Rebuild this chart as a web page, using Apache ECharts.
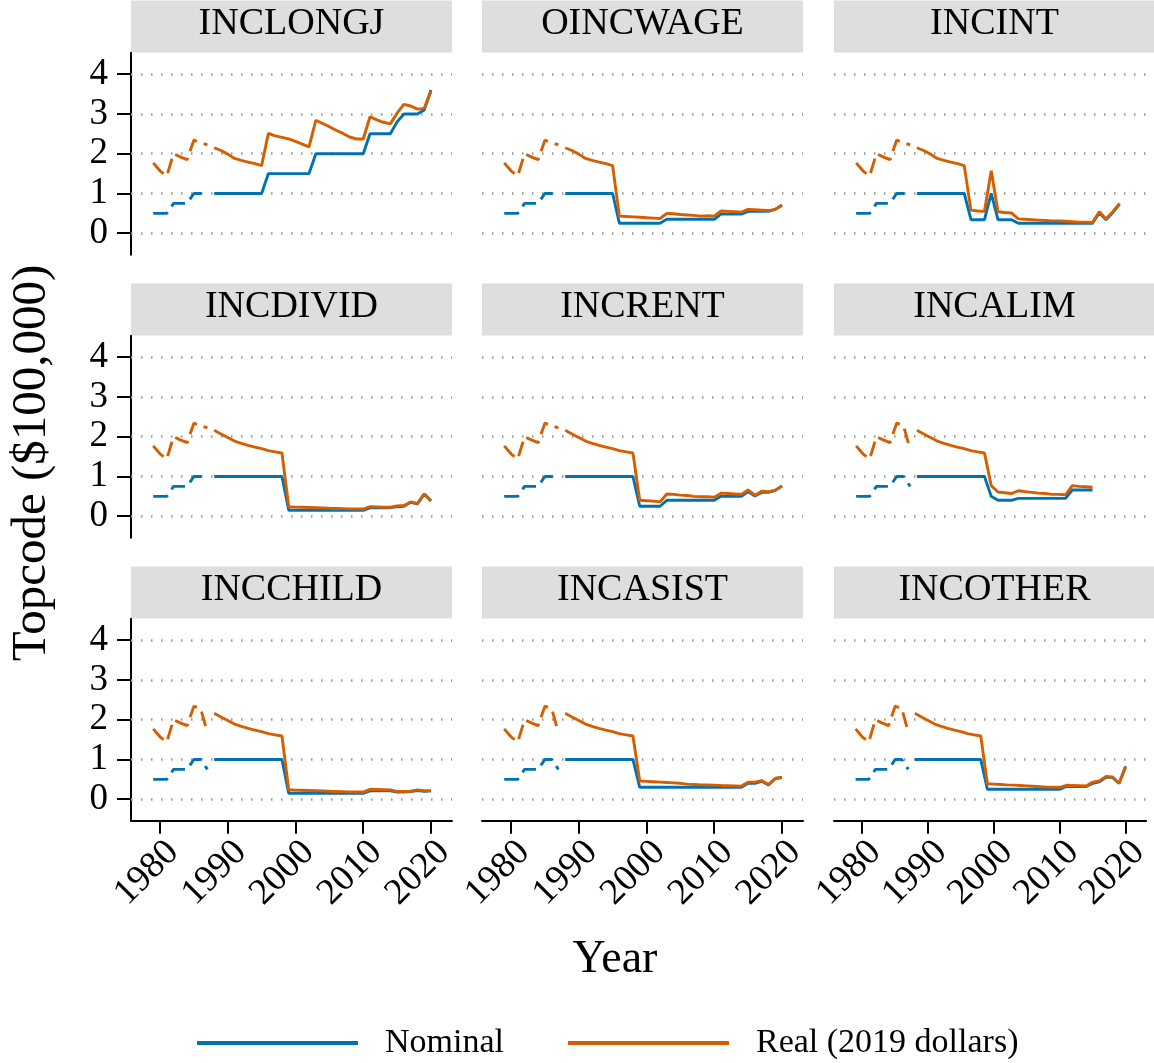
<!DOCTYPE html>
<html><head><meta charset="utf-8">
<script src="https://cdn.jsdelivr.net/npm/echarts@6/dist/echarts.min.js"></script>
<style>html,body{margin:0;padding:0;background:#fff}#c{width:1154px;height:1063px}</style>
</head><body><div id="c"></div>
<script>
// ---------- DATA ----------
const panelNames = ['INCLONGJ','OINCWAGE','INCINT','INCDIVID','INCRENT','INCALIM','INCCHILD','INCASIST','INCOTHER'];
const earlyYears = [1979,1980,1981,1982,1983,1984,1985,1986,1987];
const lateYears = [1988,1989,1990,1991,1992,1993,1994,1995,1996,1997,1998,1999,2000,2001,2002,2003,2004,2005,2006,2007,2008,2009,2010,2011,2012,2013,2014,2015,2016,2017,2018,2019,2020];
const xTickYears = [1980,1990,2000,2010,2020];
const yTickValues = [0,1,2,3,4];

// early period (1979-1987), two variants
const nominalEarlyA = [0.5,0.5,0.5,0.75,0.75,0.75,1.0,1.0,1.0];
const realEarlyA    = [1.77,1.57,1.44,2.00,1.92,1.85,2.34,2.28,2.22];
const nominalEarlyB = [0.5,0.5,0.5,0.75,0.75,0.75,1.0,1.0,0.75];
const realEarlyB    = [1.77,1.57,1.44,2.00,1.92,1.85,2.34,2.28,1.68];

// late period (1988-2020)
const inclongjNominal = [1,1,1,1,1,1,1,1, 1.5,1.5,1.5,1.5,1.5,1.5,1.5, 2,2,2,2,2,2,2,2, 2.5,2.5,2.5,2.5, 2.8,3.0,3.0,3.0,3.1,3.6];
const inclongjReal    = [2.15,2.08,1.99,1.88,1.83,1.79,1.75,1.70, 2.51,2.45,2.41,2.37,2.31,2.24,2.17, 2.84,2.76,2.68,2.59,2.51,2.42,2.37,2.37, 2.93,2.85,2.79,2.75, 3.02,3.24,3.20,3.12,3.14,3.57];
const oincwageNominal = [1,1,1,1,1,1,1,1, 0.25,0.25,0.25,0.25,0.25,0.25,0.25, 0.35,0.35,0.35,0.35,0.35,0.35,0.35,0.35, 0.48,0.48,0.48,0.48, 0.55,0.55,0.55,0.55,0.60,0.71];
const oincwageReal    = [2.15,2.08,1.99,1.88,1.83,1.79,1.75,1.70, 0.43,0.42,0.41,0.40,0.39,0.38,0.37, 0.50,0.49,0.47,0.46,0.45,0.43,0.44,0.43, 0.56,0.55,0.54,0.53, 0.60,0.59,0.58,0.57,0.60,0.70];
const incintNominal   = [1,1,1,1,1,1,1,1, 0.34,0.34,0.34,1.0,0.34,0.34,0.34, 0.25,0.25,0.25,0.25,0.25,0.25,0.25,0.25,0.25,0.25,0.25,0.25, 0.51,0.34,0.52,0.73,null,null];
const incintReal      = [2.15,2.08,1.99,1.88,1.83,1.79,1.75,1.70, 0.58,0.56,0.55,1.57,0.54,0.52,0.51, 0.36,0.35,0.34,0.33,0.32,0.31,0.31,0.30,0.29,0.28,0.28,0.27, 0.54,0.36,0.54,0.75,null,null];
const incdividNominal = [1,1,1,1,1,1,1,1,1,1,1, 0.15,0.15,0.15,0.15,0.15,0.15,0.15,0.15,0.15,0.15,0.15,0.15, 0.21,0.21,0.21,0.21, 0.24,0.25,0.35,0.31,0.56,0.38];
const incdividReal    = [2.16,2.07,1.98,1.89,1.83,1.78,1.74,1.70,1.65,1.62,1.59, 0.24,0.23,0.225,0.22,0.215,0.21,0.20,0.195,0.19,0.185,0.185,0.18, 0.24,0.235,0.23,0.225, 0.26,0.27,0.36,0.32,0.56,0.39];
const increntNominal  = [1,1,1,1,1,1,1,1,1,1,1, 0.25,0.25,0.25,0.25, 0.4,0.4,0.4,0.4,0.4,0.4,0.4,0.4, 0.5,0.5,0.5,0.5, 0.62,0.51,0.60,0.60,0.65,0.76];
const increntReal     = [2.16,2.07,1.98,1.89,1.83,1.78,1.74,1.70,1.65,1.62,1.59, 0.40,0.39,0.38,0.36, 0.56,0.55,0.53,0.52,0.50,0.49,0.49,0.48, 0.58,0.57,0.56,0.55, 0.66,0.53,0.63,0.62,0.65,0.76];
const incalimNominal  = [1,1,1,1,1,1,1,1,1,1,1, 0.5,0.4,0.4,0.4, 0.45,0.45,0.45,0.45,0.45,0.45,0.45,0.45, 0.66,0.66,0.66,0.66, null,null,null,null,null,null];
const incalimReal     = [2.16,2.07,1.98,1.89,1.83,1.78,1.74,1.70,1.65,1.62,1.59, 0.77,0.61,0.59,0.57, 0.64,0.62,0.60,0.58,0.57,0.55,0.55,0.54, 0.77,0.75,0.74,0.73, null,null,null,null,null,null];
const incchildNominal = [1,1,1,1,1,1,1,1,1,1,1, 0.15,0.15,0.15,0.15,0.15,0.15,0.15,0.15,0.15,0.15,0.15,0.15, 0.21,0.21,0.21,0.21, 0.18,0.18,0.19,0.22,0.20,0.21];
const incchildReal    = [2.16,2.07,1.98,1.89,1.83,1.78,1.74,1.70,1.65,1.62,1.59, 0.24,0.23,0.225,0.22,0.215,0.21,0.20,0.195,0.19,0.185,0.185,0.18, 0.25,0.245,0.24,0.235, 0.195,0.195,0.20,0.235,0.21,0.21];
const incasistNominal = [1,1,1,1,1,1,1,1,1,1,1, 0.3,0.3,0.3,0.3,0.3,0.3,0.3,0.3,0.3,0.3,0.3,0.3,0.3,0.3,0.3,0.3, 0.40,0.40,0.45,0.36,0.52,0.55];
const incasistReal    = [2.16,2.07,1.98,1.89,1.83,1.78,1.74,1.70,1.65,1.62,1.59, 0.46,0.45,0.44,0.43,0.42,0.41,0.40,0.38,0.37,0.36,0.36,0.355,0.345,0.34,0.335,0.33, 0.43,0.43,0.47,0.37,0.52,0.55];
const incotherNominal = [1,1,1,1,1,1,1,1,1,1,1, 0.25,0.25,0.25,0.25,0.25,0.25,0.25,0.25,0.25,0.25,0.25,0.25, 0.32,0.32,0.32,0.32, 0.40,0.44,0.55,0.55,0.40,0.83];
const incotherReal    = [2.16,2.07,1.98,1.89,1.83,1.78,1.74,1.70,1.65,1.62,1.59, 0.39,0.38,0.37,0.36,0.355,0.345,0.335,0.325,0.315,0.305,0.305,0.30, 0.35,0.345,0.34,0.335, 0.43,0.46,0.57,0.56,0.40,0.82];

// ---------- ASSEMBLY ----------
const panelData = [
  [nominalEarlyA, realEarlyA, inclongjNominal, inclongjReal],
  [nominalEarlyA, realEarlyA, oincwageNominal, oincwageReal],
  [nominalEarlyA, realEarlyA, incintNominal, incintReal],
  [nominalEarlyA, realEarlyA, incdividNominal, incdividReal],
  [nominalEarlyA, realEarlyA, increntNominal, increntReal],
  [nominalEarlyB, realEarlyB, incalimNominal, incalimReal],
  [nominalEarlyB, realEarlyB, incchildNominal, incchildReal],
  [nominalEarlyB, realEarlyB, incasistNominal, incasistReal],
  [nominalEarlyB, realEarlyB, incotherNominal, incotherReal]
];

const BLUE = '#0072B2', ORANGE = '#D55E00';
const FONT = '"Liberation Serif","Times New Roman",serif';
const colLeft = [131, 482, 834];
const panelW = 321, panelH = 202, rowTop0 = 52.7, rowStep = 283, stripH = 52;
const DASH = [15, 7];
const LW = 2.9;
const TICKFS = 37;

const zip = (xs, ys) => xs.map((x, i) => [x, ys[i]]);

const grids = [], xAxes = [], yAxes = [], series = [], graphics = [];
panelNames.forEach((name, i) => {
  const r = Math.floor(i / 3), c = i % 3;
  const left = colLeft[c], top = rowTop0 + r * rowStep;
  grids.push({left: left, top: top, width: panelW, height: panelH, containLabel: false});
  const bottomRow = r === 2, leftCol = c === 0;
  xAxes.push({
    type: 'value', gridIndex: i, min: 1975.72, max: 2023.1,
    axisLine: {show: bottomRow, onZero: false, lineStyle: {color: '#000', width: 2}},
    axisTick: {show: bottomRow, length: 13, customValues: xTickYears, lineStyle: {color: '#000', width: 2}},
    axisLabel: {show: bottomRow, customValues: xTickYears, rotate: 45, margin: 13,
      align: 'right', verticalAlign: 'top', showMinLabel: true, showMaxLabel: true, hideOverlap: false,
      fontFamily: FONT, fontSize: TICKFS, color: '#000', formatter: v => String(v)},
    splitLine: {show: false}
  });
  yAxes.push({
    type: 'value', gridIndex: i, min: -0.54, max: 4.54,
    axisLine: {show: leftCol, onZero: false, lineStyle: {color: '#000', width: 2}},
    axisTick: {show: leftCol, length: 14, customValues: yTickValues, lineStyle: {color: '#000', width: 2}},
    axisLabel: {show: leftCol, customValues: yTickValues, margin: 23, lineHeight: 30,
      showMinLabel: true, showMaxLabel: true, hideOverlap: false,
      fontFamily: FONT, fontSize: TICKFS, color: '#000'},
    splitLine: {show: false}
  });
  const [nE, rE, nL, rL] = panelData[i];
  const common = {type: 'line', xAxisIndex: i, yAxisIndex: i, showSymbol: false, symbol: 'none',
    animation: false, emphasis: {disabled: true}, silent: true, connectNulls: false};
  series.push(Object.assign({}, common, {
    name: 'Nominal', data: zip(lateYears, nL), z: 3,
    itemStyle: {color: BLUE}, lineStyle: {color: BLUE, width: LW},
    markLine: {silent: true, z: 1, symbol: ['none', 'none'], animation: false,
      label: {show: false}, emphasis: {disabled: true},
      lineStyle: {color: '#9a9a9a', width: 2.6, type: [1.5, 8.5]},
      data: yTickValues.map(v => ({yAxis: v}))}
  }));
  series.push(Object.assign({}, common, {
    name: 'Nominal', data: zip(earlyYears, nE), z: 3,
    itemStyle: {color: BLUE}, lineStyle: {color: BLUE, width: LW, type: DASH}
  }));
  series.push(Object.assign({}, common, {
    name: 'Real (2019 dollars)', data: zip(lateYears, rL), z: 4,
    itemStyle: {color: ORANGE}, lineStyle: {color: ORANGE, width: LW}
  }));
  series.push(Object.assign({}, common, {
    name: 'Real (2019 dollars)', data: zip(earlyYears, rE), z: 4,
    itemStyle: {color: ORANGE}, lineStyle: {color: ORANGE, width: LW, type: DASH}
  }));
  // strip
  graphics.push({type: 'rect', left: left, top: top - stripH - 0.2, silent: true,
    shape: {width: panelW, height: stripH}, style: {fill: '#dedede'}});
  graphics.push({type: 'text', silent: true, x: left + panelW / 2, y: top - stripH / 2 - 3,
    style: {text: name, font: '38px ' + FONT, fill: '#000', textAlign: 'center', textVerticalAlign: 'middle'}});
});

graphics.push({type: 'text', silent: true, x: 32, y: 463, rotation: Math.PI / 2,
  style: {text: 'Topcode ($100,000)', font: '49px ' + FONT, fill: '#000', textAlign: 'center', textVerticalAlign: 'middle'}});
graphics.push({type: 'text', silent: true, x: 615, y: 960,
  style: {text: 'Year', font: '46px ' + FONT, fill: '#000', textAlign: 'center', textVerticalAlign: 'middle'}});

const chart = echarts.init(document.getElementById('c'), null, {renderer: 'canvas'});
chart.setOption({
  backgroundColor: '#ffffff',
  animation: false,
  grid: grids, xAxis: xAxes, yAxis: yAxes, series: series,
  legend: {
    left: 197, top: 1026, orient: 'horizontal', selectedMode: false,
    itemWidth: 161, itemHeight: 4, itemGap: 64, padding: 0,
    textStyle: {fontFamily: FONT, fontSize: 34, color: '#000', padding: [0, 0, 0, 22]},
    data: [
      {name: 'Nominal', icon: 'rect', itemStyle: {color: BLUE, borderWidth: 0}},
      {name: 'Real (2019 dollars)', icon: 'rect', itemStyle: {color: ORANGE, borderWidth: 0}}
    ]
  },
  graphic: graphics
});
</script></body></html>
